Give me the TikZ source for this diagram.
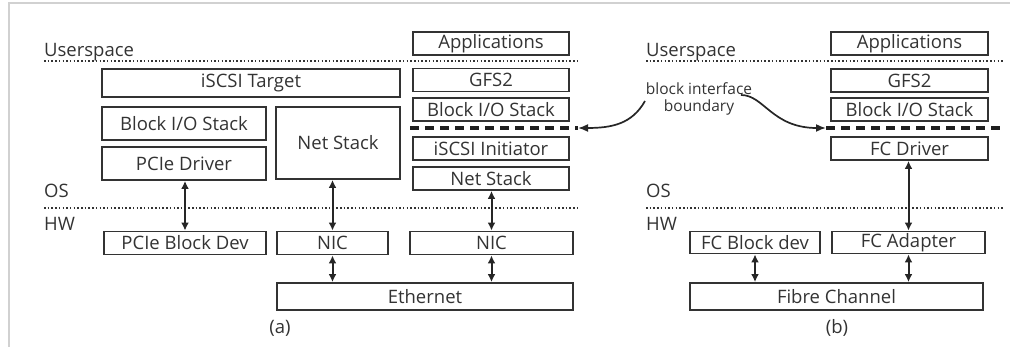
\documentclass[tikz,border=0pt]{standalone}
\usepackage{fontspec}
\setmainfont{Open Sans}
\usetikzlibrary{arrows.meta}
\definecolor{ink}{HTML}{333333}
\tikzset{
  box/.style={draw=ink, line width=1.9pt, inner sep=0pt, text=ink,
    font=\fontsize{18.5}{21}\selectfont},
  lbl/.style={text=ink, inner sep=0pt, font=\fontsize{18.5}{21}\selectfont},
  sep/.style={draw=ink, line width=1.5pt, dash pattern=on 1.5pt off 2.2pt},
  bound/.style={draw=black!88, line width=4pt, dash pattern=on 9pt off 6pt},
  link/.style={draw=black!85, line width=2pt, {Latex[length=8pt,width=8pt]}-{Latex[length=8pt,width=8pt]}},
  callout/.style={draw=black!85, line width=1.7pt, -{Latex[length=10pt,width=8pt]}},
}
\begin{document}
\begin{tikzpicture}[x=1pt,y=-1pt]
\useasboundingbox (0,0) rectangle (1010,347);
% faint frame shadow
\draw[black!18, line width=1.5pt] (9,347) -- (9,3) -- (1010,3);

% ---------- panel (a) ----------
\node[lbl, anchor=base west] (usA) at (44,57) {Userspace};
\node[lbl, anchor=base west] (osA) at (44,198) {OS};
\node[lbl, anchor=base west] (hwA) at (44,231) {HW};
\coordinate (uA1) at (44,61);  \coordinate (uA2) at (578,61);
\coordinate (hA1) at (44,208); \coordinate (hA2) at (578,208);
\draw[sep] (uA1) -- (uA2);
\draw[sep] (hA1) -- (hA2);

\node[box, minimum width=156pt, minimum height=23pt] (appA) at (491,43.5) {Applications};
\node[box, minimum width=298pt, minimum height=28pt] (target) at (251,83) {iSCSI Target};
\node[box, minimum width=164pt, minimum height=33pt] (bioL) at (184,123.5) {Block I/O Stack};
\node[box, minimum width=124pt, minimum height=72pt] (netL) at (338,143) {Net Stack};
\node[box, minimum width=164pt, minimum height=33pt] (pcie) at (184,163.5) {PCIe Driver};
\node[box, minimum width=156pt, minimum height=23pt] (gfsA) at (491,80) {GFS2};
\node[box, minimum width=156pt, minimum height=23pt] (bioA) at (491,109.5) {Block I/O Stack};
\node[box, minimum width=156pt, minimum height=23pt] (initA) at (491,148.5) {iSCSI Initiator};
\node[box, minimum width=156pt, minimum height=23pt] (netA) at (491,178.5) {Net Stack};
\node[box, minimum width=162pt, minimum height=23pt] (pcieDev) at (185,243) {PCIe Block Dev};
\node[box, minimum width=111pt, minimum height=23pt] (nicL) at (332.5,243) {NIC};
\node[box, minimum width=163pt, minimum height=23pt] (nicA) at (491.5,243) {NIC};
\node[box, minimum width=296pt, minimum height=27pt] (eth) at (425,296.5) {Ethernet};
\node[lbl] (capA) at (280,328) {(a)};

\coordinate (bA1) at (410,128); \coordinate (bA2) at (578,128);
\draw[bound] (bA1) -- (bA2);

\draw[link] (pcieDev.north |- pcie.south) -- (pcieDev.north);
\draw[link] (nicL.north |- netL.south) -- (nicL.north);
\draw[link] (nicL.south) -- (nicL.south |- eth.north);
\draw[link] (nicA.north |- netA.south) -- (nicA.north);
\draw[link] (nicA.south) -- (nicA.south |- eth.north);

% ---------- panel (b) ----------
\node[lbl, anchor=base west] (usB) at (646,57) {Userspace};
\node[lbl, anchor=base west] (osB) at (646,198) {OS};
\node[lbl, anchor=base west] (hwB) at (646,231) {HW};
\coordinate (uB1) at (646,61);  \coordinate (uB2) at (1003,61);
\coordinate (hB1) at (646,208); \coordinate (hB2) at (1003,208);
\draw[sep] (uB1) -- (uB2);
\draw[sep] (hB1) -- (hB2);

\node[box, minimum width=157pt, minimum height=23pt] (appB) at (909.5,43.5) {Applications};
\node[box, minimum width=157pt, minimum height=23pt] (gfsB) at (909.5,80.5) {GFS2};
\node[box, minimum width=157pt, minimum height=23pt] (bioB) at (909.5,109.5) {Block I/O Stack};
\node[box, minimum width=157pt, minimum height=23pt] (fcdrv) at (909.5,148.5) {FC Driver};
\node[box, minimum width=130pt, minimum height=22pt] (fcblk) at (755,242.5) {FC Block dev};
\node[box, minimum width=153pt, minimum height=22pt] (fcad) at (908.5,242.5) {FC Adapter};
\node[box, minimum width=293pt, minimum height=27pt] (fibre) at (836.5,296.5) {Fibre Channel};
\node[lbl] (capB) at (837,328) {(b)};

\coordinate (bB1) at (826,128); \coordinate (bB2) at (1000,128);
\draw[bound] (bB1) -- (bB2);

\draw[link] (fcad.north |- fcdrv.south) -- (fcad.north);
\draw[link] (fcblk.south) -- (fcblk.south |- fibre.north);
\draw[link] (fcad.south) -- (fcad.south |- fibre.north);

% ---------- callout ----------
\node[text=ink, align=center, inner sep=0pt, font=\fontsize{15.5}{17}\selectfont] (bif) at (699,99) {block interface\\boundary};
\coordinate (cL) at (645,101);
\coordinate (cR) at (741,95);
\draw[callout] (cL) .. controls (632,124) and (612,128) .. (bA2);
\draw[callout] (cR) .. controls (764,95) and (772,128) .. (bB1);
\end{tikzpicture}
\end{document}
